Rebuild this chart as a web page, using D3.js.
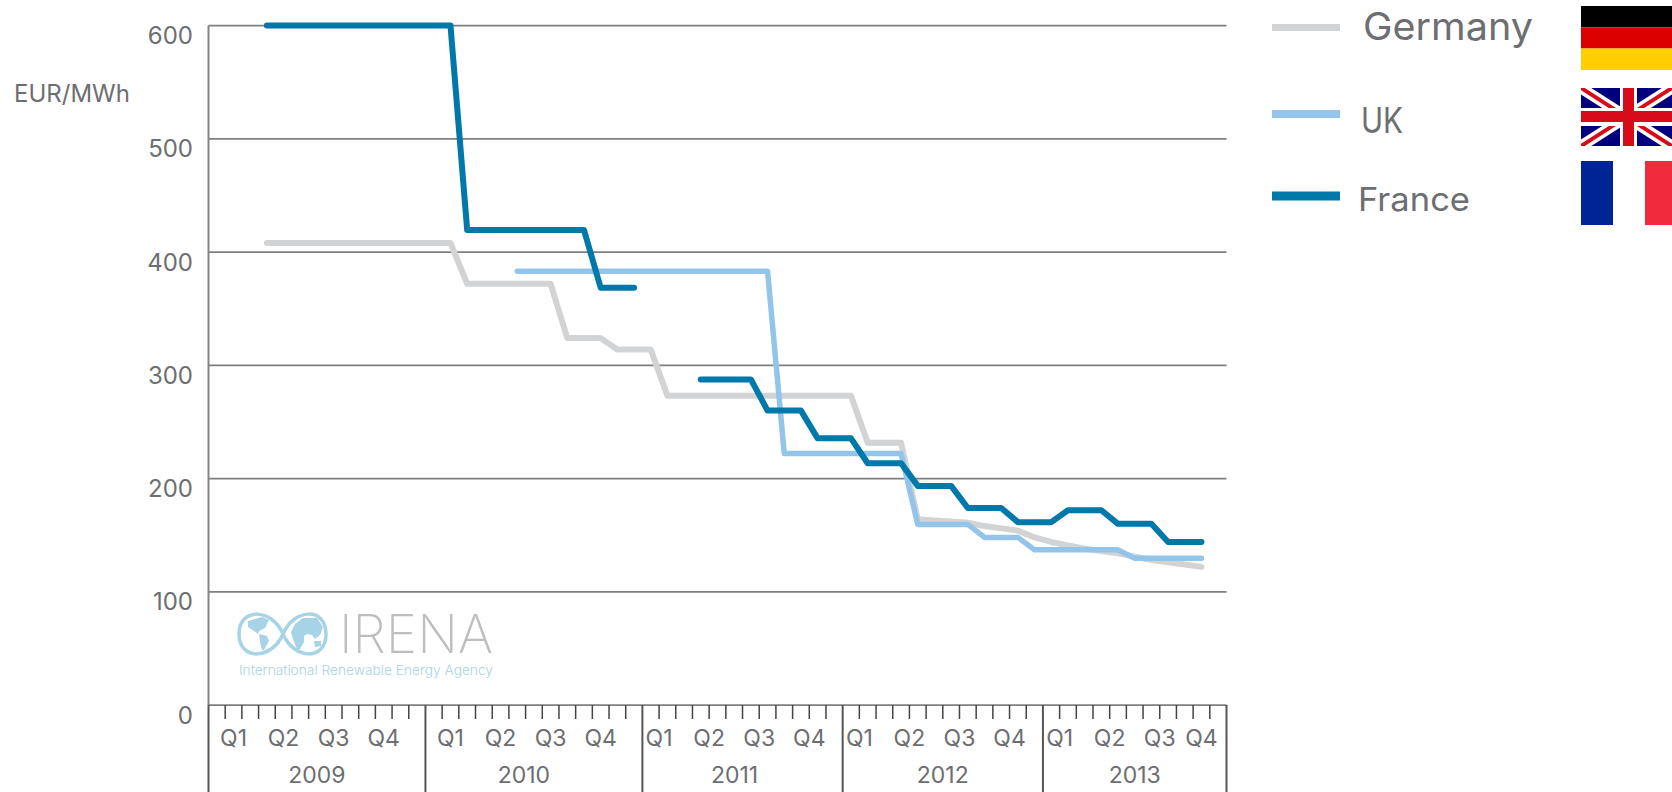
<!DOCTYPE html>
<html>
<head>
<meta charset="utf-8">
<script src="https://cdn.jsdelivr.net/npm/d3@7"></script>
<style>
  html, body { margin: 0; padding: 0; background: #fff; }
  svg { display: block; }
  text { font-family: "Inter", "Open Sans", sans-serif; font-weight: 400; fill: #6d6e71; }
</style>
</head>
<body>
<svg id="chart" width="1672" height="792"></svg>
<script>
// one category per slot of the axis, "" = slot with no quarter label under it
const slots2009 = ['Q1','Q1','Q1','Q2','Q2','Q2','Q3','Q3','Q3','Q4','Q4','Q4','']
const slots2010 = ['Q1','Q1','Q1','Q2','Q2','Q2','Q3','Q3','Q3','Q4','Q4','Q4','']
const slots2011 = ['Q1','Q1','','Q2','Q2','','Q3','Q3','','Q4','Q4','']
const slots2012 = ['Q1','Q1','','Q2','Q2','','Q3','Q3','','Q4','Q4','']
const slots2013 = ['Q1','Q1','','Q2','Q2','','Q3','Q3','Q4','Q4','Q4']
const years = ['2009','2010','2011','2012','2013']
const yearSlots = [slots2009, slots2010, slots2011, slots2012, slots2013]

const yTicks = [0, 100, 200, 300, 400, 500, 600]
const seriesNames = ['Germany', 'UK', 'France']

const _ = null
const germany = [_,_,_,
  408,408,408,408,408,408,408,408,408,408,408,408,
  372,372,372,372,372,372,
  324,324,324,
  314,314,314,
  273,273,273,273,273,273,273,273,273,273,273,273,
  231.5,231.5,231.5,
  164,163,162,161,158,156,154,148,144,141,138,136,134,131,128,126,124,122,
  _]
const uk = [_,_,_,_,_,_,_,_,_,_,_,_,_,_,_,_,_,_,
  383,383,383,383,383,383,383,383,383,383,383,383,383,383,383,383,
  222,222,222,222,222,222,222,222,
  159.5,159.5,159.5,159.5,
  148,148,148,
  137,137,137,137,137,137,
  129.5,129.5,129.5,129.5,129.5,
  _]
const france = [_,_,_,
  600,600,600,600,600,600,600,600,600,600,600,600,
  419.5,419.5,419.5,419.5,419.5,419.5,419.5,419.5,
  368.5,368.5,368.5,
  _,_,_,
  287.5,287.5,287.5,287.5,
  260,260,260,
  235.5,235.5,235.5,
  213.5,213.5,213.5,
  193.5,193.5,193.5,
  174,174,174,
  161.5,161.5,161.5,
  172,172,172,
  160,160,160,
  144,144,144,
  _]

const svg = d3.select('#chart')

const plot = { left: 208.5, right: 1226.5, top: 25.6, bottom: 705, bottomEdge: 792 }

// flat list of slots
const slots = []
years.forEach(function(year, yi) {
  yearSlots[yi].forEach(function(q) { slots.push({ year: year, quarter: q }) })
})

const x = d3.scaleBand()
  .domain(d3.range(slots.length))
  .range([plot.left, plot.right])
  .padding(0)
const mid = i => x(i) + x.bandwidth() / 2

const y = d3.scaleLinear()
  .domain([0, 600])
  .range([plot.bottom, plot.top])

// horizontal grid
svg.append('g').selectAll('line')
  .data(yTicks)
  .enter().append('line')
  .attr('x1', plot.left)
  .attr('x2', plot.right)
  .attr('y1', d => y(d))
  .attr('y2', d => y(d))
  .attr('stroke', '#7f7f7f')
  .attr('stroke-width', 1.75)

// left axis line
svg.append('line')
  .attr('x1', plot.left).attr('x2', plot.left)
  .attr('y1', plot.top).attr('y2', plot.bottom)
  .attr('stroke', '#848484')
  .attr('stroke-width', 2)

svg.append('g').selectAll('text')
  .data(yTicks)
  .enter().append('text')
  .text(d => d)
  .attr('x', 193)
  .attr('y', d => y(d) + 18.5)
  .attr('text-anchor', 'end')
  .attr('font-size', 24)

svg.append('text')
  .text('EUR/MWh')
  .attr('x', 14)
  .attr('y', 102)
  .attr('font-size', 24)

// small ticks, between slots of the same year
const tickIdx = d3.range(1, slots.length).filter(i => slots[i].year === slots[i - 1].year)
svg.append('g').selectAll('line')
  .data(tickIdx)
  .enter().append('line')
  .attr('x1', d => x(d))
  .attr('x2', d => x(d))
  .attr('y1', plot.bottom)
  .attr('y2', plot.bottom + 14)
  .attr('stroke', '#444')
  .attr('stroke-width', 1.5)

// year labels sit a bit off centre in the original
const yearLabelShift = [0, -10, -8, 0, 0]

// long year separators
const yearEdges = []
years.forEach(function(year, yi) {
  const idx = d3.range(slots.length).filter(i => slots[i].year === year)
  yearEdges.push(x(idx[0]))
  if (yi === years.length - 1) yearEdges.push(x(idx[idx.length - 1]) + x.bandwidth())

  // year label
  svg.append('text')
    .text(year)
    .attr('x', d3.mean(idx, mid) + yearLabelShift[yi])
    .attr('y', 783)
    .attr('text-anchor', 'middle')
    .attr('font-size', 23)

  // quarter labels
  ;['Q1','Q2','Q3','Q4'].forEach(function(q) {
    const qIdx = idx.filter(i => slots[i].quarter === q)
    svg.append('text')
      .text(q)
      .attr('x', d3.mean(qIdx, mid))
      .attr('y', 745.5)
      .attr('text-anchor', 'middle')
      .attr('font-size', 23)
  })
})
svg.append('g').selectAll('line')
  .data(yearEdges)
  .enter().append('line')
  .attr('x1', d => d)
  .attr('x2', d => d)
  .attr('y1', plot.bottom)
  .attr('y2', plot.bottomEdge)
  .attr('stroke', '#555')
  .attr('stroke-width', 2)

// logo goes under the lines, bottom left of the plot
const logo = svg.append('g')
const logoBlue = '#a7d3e6'
logo.append('path')
  .attr('d', 'M283 634 C 272 608, 239 607, 239 634 C 239 661, 272 660, 283 634 C 294 608, 326 607, 326 634 C 326 661, 294 660, 283 634 Z')
  .attr('fill', 'none')
  .attr('stroke', logoBlue)
  .attr('stroke-width', 3.5)
// rough continents
logo.append('path')
  .attr('d', 'M248 621 l14 -4 l7 3 l-4 8 l-6 3 l-1 3 l-4 -3 l-6 -4 Z M259 634 l8 2 l2 5 l-5 9 l-2 0 l-2 -8 Z')
  .attr('fill', logoBlue)
logo.append('path')
  .attr('d', 'M295 624 l8 -6 l14 0 l6 9 l-3 8 l-5 4 l-3 -4 l-5 -1 l-3 2 l0 6 l-4 7 l-3 0 l-4 -10 l-2 -7 Z M314 641 l7 0 l0 5 l-6 1 Z')
  .attr('fill', logoBlue)
logo.append('text')
  .text('IRENA')
  .attr('x', 339)
  .attr('y', 653)
  .attr('font-size', 53)
  .attr('textLength', 154)
  .attr('lengthAdjust', 'spacingAndGlyphs')
  .style('font-weight', 200)
  .style('fill', '#bdbec0')
logo.append('text')
  .text('International Renewable Energy Agency')
  .attr('x', 239)
  .attr('y', 675)
  .attr('font-size', 13.5)
  .attr('textLength', 254)
  .attr('lengthAdjust', 'spacingAndGlyphs')
  .style('font-weight', 300)
  .style('fill', '#a7d3e6')

// series
const colors = d3.scaleOrdinal().domain(seriesNames).range(['#d1d3d4', '#93c5eb', '#0078aa'])
const seriesWidths = [6, 5.5, 6]
const seriesValues = [germany, uk, france]

const lineGenerator = d3.line()
  .defined(d => d !== null)
  .x((d, i) => mid(i))
  .y(d => y(d))

seriesNames.forEach(function(name, si) {
  svg.append('path')
    .attr('d', lineGenerator(seriesValues[si]))
    .attr('fill', 'none')
    .attr('stroke', colors(name))
    .attr('stroke-width', seriesWidths[si])
    .attr('stroke-linejoin', 'round')
    .attr('stroke-linecap', 'round')
})

// legend, each label has its own size in the original
const legendRows = [
  { y: 27.5, w: 7, tx: 1363, ty: 40, size: 38, len: 170 },
  { y: 114, w: 8, tx: 1361, ty: 133, size: 36, len: 42 },
  { y: 196, w: 9, tx: 1358, ty: 210.5, size: 33, len: 112 }
]
seriesNames.forEach(function(name, si) {
  const r = legendRows[si]
  svg.append('line')
    .attr('x1', 1272).attr('x2', 1340)
    .attr('y1', r.y).attr('y2', r.y)
    .attr('stroke', colors(name))
    .attr('stroke-width', r.w)
  svg.append('text')
    .text(name)
    .attr('x', r.tx)
    .attr('y', r.ty)
    .attr('font-size', r.size)
    .attr('textLength', r.len)
    .attr('lengthAdjust', 'spacingAndGlyphs')
})

// flags
const flagX = 1581, flagR = 1672
function bars(list) {
  list.forEach(function(b) {
    svg.append('rect')
      .attr('x', b[0]).attr('y', b[1]).attr('width', b[2]).attr('height', b[3])
      .attr('fill', b[4])
  })
}
bars([
  [flagX, 6, flagR - flagX, 21.5, '#000000'],
  [flagX, 27.5, flagR - flagX, 21, '#dd0000'],
  [flagX, 48.5, flagR - flagX, 21.5, '#ffce00'],
  [flagX, 161, 32, 64, '#002395'],
  [flagX + 64, 161, 27, 64, '#ef2b3d']
])

svg.append('clipPath').attr('id', 'ukclip')
  .append('rect').attr('x', flagX).attr('y', 88).attr('width', flagR - flagX).attr('height', 58)
const uf = svg.append('g').attr('clip-path', 'url(#ukclip)')
uf.append('rect').attr('x', flagX).attr('y', 88).attr('width', flagR - flagX).attr('height', 58).attr('fill', '#00007f')
const diag = [[flagX, 88, flagR, 146], [flagX, 146, flagR, 88]]
uf.selectAll('.w').data(diag).enter().append('line')
  .attr('x1', d => d[0]).attr('y1', d => d[1]).attr('x2', d => d[2]).attr('y2', d => d[3])
  .attr('stroke', '#fff').attr('stroke-width', 11)
uf.selectAll('.r').data(diag).enter().append('line')
  .attr('x1', d => d[0]).attr('y1', d => d[1]).attr('x2', d => d[2]).attr('y2', d => d[3])
  .attr('stroke', '#d80c18').attr('stroke-width', 4)
uf.append('rect').attr('x', 1620).attr('y', 88).attr('width', 17).attr('height', 58).attr('fill', '#fff')
uf.append('rect').attr('x', flagX).attr('y', 108).attr('width', flagR - flagX).attr('height', 18).attr('fill', '#fff')
uf.append('rect').attr('x', 1623).attr('y', 88).attr('width', 11).attr('height', 58).attr('fill', '#d80c18')
uf.append('rect').attr('x', flagX).attr('y', 111).attr('width', flagR - flagX).attr('height', 11).attr('fill', '#d80c18')
</script>
</body>
</html>
